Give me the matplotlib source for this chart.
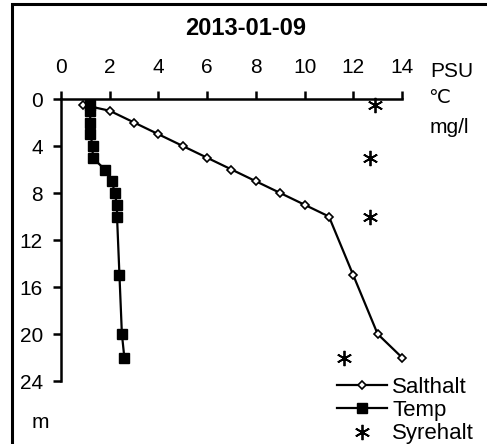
import numpy as np
import matplotlib
matplotlib.use('Agg')
import matplotlib.pyplot as plt
from matplotlib.patches import Rectangle

plt.rcParams['font.family'] = ['Liberation Sans', 'DejaVu Sans']

# data
salt_djup = [0.5, 1, 2, 3, 4, 5, 6, 7, 8, 9, 10, 15, 20, 22]
salthalt = [0.9, 2.0, 3.0, 4.0, 5.0, 6.0, 7.0, 8.0, 9.0, 10.0, 11.0, 12.0, 13.0, 14.0]
temp_djup = [0.5, 1, 2, 3, 4, 5, 6, 7, 8, 9, 10, 15, 20, 22]
temp = [1.2, 1.2, 1.2, 1.2, 1.3, 1.3, 1.8, 2.1, 2.2, 2.3, 2.3, 2.4, 2.5, 2.6]
syre_djup = [0.5, 5, 10, 22]
syrehalt = [12.9, 12.7, 12.7, 11.6]

x_ticks = [0, 2, 4, 6, 8, 10, 12, 14]
y_ticks = [0, 4, 8, 12, 16, 20, 24]

fs = 15
W, H = 487, 444

fig = plt.figure(figsize=(4.87, 4.44), dpi=100)
ax = fig.add_axes([61/W, 1-381/H, (402-61)/W, (381-99)/H])

ax.plot(salthalt, salt_djup, color='black', lw=1.6, marker='D', ms=4.5,
        mfc='white', mec='black', mew=1.2, label='Salthalt', clip_on=False)
ax.plot(temp, temp_djup, color='black', lw=1.6, marker='s', ms=6.5,
        mfc='black', mec='black', label='Temp', clip_on=False)
ax.plot(syrehalt, syre_djup, ls='none', marker=(6, 2, 0), ms=11,
        mec='black', mew=1.3, label='Syrehalt', clip_on=False)

ax.set_xlim(0, 14)
ax.set_ylim(24, 0)
ax.set_xticks(x_ticks)
ax.set_yticks(y_ticks)
ax.xaxis.tick_top()
ax.spines['right'].set_visible(False)
ax.spines['bottom'].set_visible(False)
ax.spines['top'].set_linewidth(1.8)
ax.spines['left'].set_linewidth(1.8)
ax.tick_params(direction='out', length=6, width=1.8, labelsize=fs)
ax.tick_params(axis='x', pad=10)
ax.tick_params(axis='y', pad=7)

fig.text(246/W, 1-35/H, '2013-01-09', ha='center', va='baseline',
         fontsize=17, fontweight='bold')
fig.text(430/W, 1-77/H, 'PSU', ha='left', va='baseline', fontsize=fs)
fig.text(428/W, 1-103/H, '℃', ha='left', va='baseline', fontsize=14,
         family=['DejaVu Sans'])
fig.text(430/W, 1-133/H, 'mg/l', ha='left', va='baseline', fontsize=fs)
fig.text(40/W, 1-428/H, 'm', ha='center', va='baseline', fontsize=fs)

leg = ax.legend(loc='upper left', bbox_to_anchor=(337/W, 1-377/H),
                bbox_transform=fig.transFigure, frameon=False, fontsize=16,
                handlelength=2.25, handletextpad=0.23, labelspacing=0.1,
                borderpad=0, borderaxespad=0)

fig.patches.append(Rectangle((12/W, -0.1), 1.2, 1.1 - 4/H, fill=False,
                             lw=2.2, ec='black', transform=fig.transFigure,
                             figure=fig))

fig.savefig('out.png', dpi=100)
